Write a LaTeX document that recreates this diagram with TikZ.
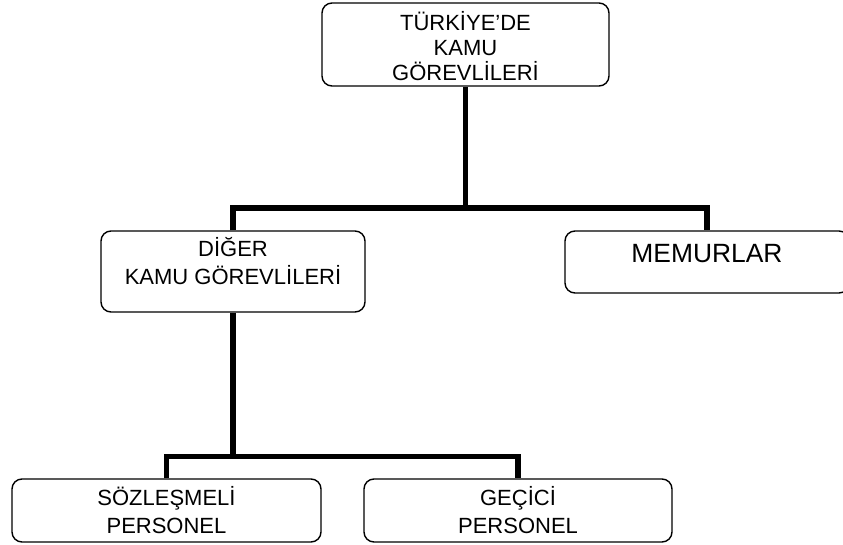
\documentclass[tikz,border=0pt]{standalone}
\usepackage{fontspec}
\setmainfont{Liberation Sans}
\begin{document}
\begin{tikzpicture}[x=1pt,y=-1pt,
  box/.style={draw=black,line width=1.4pt,rounded corners=10pt,inner sep=0pt,fill=none},
  conn/.style={draw=black,line width=5.3pt,line join=miter},
  txt/.style={anchor=base,inner sep=0pt,font=\fontsize{22}{26}\selectfont},
  bigtxt/.style={anchor=base,inner sep=0pt,font=\fontsize{26.4}{30}\selectfont}]
\useasboundingbox (0,0) rectangle (843,545);
% boxes
\node[box,minimum width=287pt,minimum height=83pt] (top) at (465.5,44.5) {};
\node[box,minimum width=264pt,minimum height=81pt] (dig) at (233,271.5) {};
\node[box,minimum width=284pt,minimum height=62pt] (mem) at (707,262) {};
\node[box,minimum width=309pt,minimum height=63pt] (soz) at (166.5,510.5) {};
\node[box,minimum width=308pt,minimum height=63pt] (gec) at (518,510.5) {};
% texts
\node[txt] (topa) at (465.5,30.5) {TÜRKİYE’DE};
\node[txt] (topb) at (465.5,56) {KAMU};
\node[txt] (topc) at (465.5,80.5) {GÖREVLİLERİ};
\node[txt] (diga) at (233,257) {DİĞER};
\node[txt] (digb) at (233,285) {KAMU GÖREVLİLERİ};
\node[bigtxt] (mema) at (707,262) {MEMURLAR};
\node[txt] (soza) at (166.5,505) {SÖZLEŞMELİ};
\node[txt] (sozb) at (166.5,533) {PERSONEL};
\node[txt] (geca) at (518,505) {GEÇİCİ};
\node[txt] (gecb) at (518,533) {PERSONEL};
% connectors
\coordinate (bus1) at (465.5,208);
\coordinate (bus2) at (233,456.5);
\draw[conn] (top.south) -- (bus1);
\draw[conn] (dig.north) |- (bus1) -| (mem.north);
\draw[conn] (dig.south) -- (bus2);
\draw[conn] (soz.north) |- (bus2) -| (gec.north);
\end{tikzpicture}
\end{document}
